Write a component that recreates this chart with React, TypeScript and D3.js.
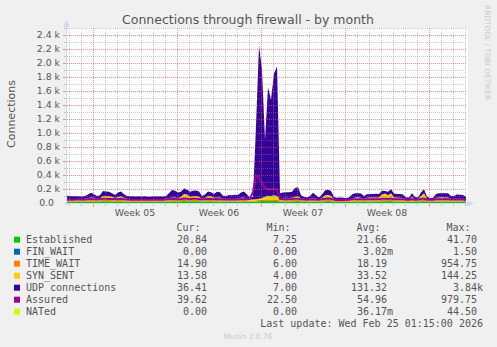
import React from "react";
import * as d3 from "d3";

const W = 497;
const H = 347;
const START = new Date(2026, 0, 23, 20, 0, 0);
const SPAN_HOURS = 800;
const STEP_HOURS = 6;

const established = [
  20, 21, 19, 20, 21, 20, 19, 21, 22, 21, 20, 21,
  25, 24, 24, 23, 22, 24, 25, 22,
  20, 19, 18, 19, 20, 19, 18, 19, 19, 20, 19, 18, 19, 20,
  23, 25, 24, 23, 24, 27, 26, 24, 25, 25, 24, 20, 22, 25, 24, 22, 23, 23,
  20, 20, 21, 20, 21, 20, 22, 23, 21, 18, 18,
  22, 26, 28, 28, 30, 29, 30, 29,
  23, 23, 23, 23, 24, 26, 27, 21, 20, 19, 20, 22, 20, 19, 21, 26, 27, 25,
  17, 16, 17, 16, 17, 17,
  21, 22, 22, 22, 20, 22, 22, 22, 22, 22, 25, 26, 24, 27, 22, 22, 22, 21,
  18, 19, 23, 19, 18, 24, 27, 19, 18, 18,
  22, 22, 23, 22, 22, 20, 20, 21, 21, 21, 21,
];
const timeWait = [
  16, 15, 16, 17, 16, 15, 16, 17, 18, 17, 16, 16,
  20, 21, 19, 20, 18, 19, 20, 18,
  15, 15, 14, 15, 16, 15, 15, 14, 15, 15, 14, 15, 15, 16,
  18, 20, 20, 19, 20, 22, 21, 20, 20, 21, 20, 16, 17, 20, 20, 18, 19, 18,
  16, 17, 17, 16, 17, 17, 18, 19, 17, 15, 15,
  16, 18, 20, 22, 22, 22, 23, 22,
  18, 18, 19, 18, 19, 21, 21, 17, 16, 15, 16, 18, 16, 15, 17, 21, 22, 21,
  14, 14, 14, 13, 14, 14,
  17, 18, 18, 18, 16, 18, 18, 17, 18, 18, 20, 21, 20, 22, 18, 18, 17, 17,
  15, 15, 19, 15, 15, 19, 22, 16, 14, 14,
  17, 18, 18, 18, 17, 16, 16, 17, 16, 16, 15,
];
const synSent = [
  24, 22, 20, 21, 23, 20, 25, 32, 40, 37, 24, 28,
  55, 55, 52, 47, 30, 42, 50, 35,
  25, 24, 23, 21, 22, 21, 24, 22, 22, 23, 22, 24, 21, 24,
  29, 35, 36, 28, 46, 79, 73, 46, 50, 54, 46, 24, 31, 55, 51, 35, 38, 37,
  24, 21, 24, 24, 24, 23, 35, 38, 27, 17, 17,
  17, 16, 22, 40, 53, 49, 57, 49,
  29, 29, 33, 31, 32, 43, 47, 27, 24, 21, 24, 35, 24, 21, 32, 63, 66, 59,
  24, 20, 21, 21, 19, 21,
  27, 40, 42, 35, 24, 35, 40, 39, 40, 38, 75, 88, 66, 89, 40, 38, 36, 32,
  22, 21, 48, 21, 19, 57, 91, 25, 18, 18,
  36, 40, 41, 40, 39, 24, 22, 27, 25, 23, 13,
];
const udp = [
  45, 42, 40, 40, 35, 37, 40, 50, 67, 50, 40, 45,
  72, 65, 65, 50, 45, 65, 70, 50,
  40, 40, 40, 37, 37, 37, 38, 35, 37, 37, 37, 38, 37, 40,
  70, 105, 95, 80, 70, 82, 70, 70, 80, 80, 75, 40, 50, 65, 60, 55, 80, 77,
  45, 42, 53, 52, 56, 55, 75, 85, 55, 25, 40,
  1045, 2190, 1830, 810, 1545, 1380, 1740, 1850,
  70, 80, 80, 83, 85, 125, 130, 45, 30, 25, 40, 70, 50, 25, 50, 70, 75, 65,
  30, 25, 26, 25, 22, 26,
  55, 60, 58, 60, 40, 50, 50, 50, 52, 52, 55, 35, 50, 57, 55, 52, 53, 50,
  23, 25, 50, 30, 28, 50, 55, 30, 20, 22,
  55, 60, 58, 58, 62, 40, 42, 55, 56, 55, 37,
];
const assured = [
  48, 50, 47, 49, 52, 48, 50, 55, 58, 54, 50, 52,
  62, 60, 58, 57, 52, 56, 60, 54,
  50, 48, 47, 46, 48, 47, 48, 46, 47, 48, 47, 48, 46, 50,
  55, 60, 58, 55, 57, 65, 62, 57, 60, 60, 58, 50, 53, 60, 58, 54, 56, 55,
  50, 49, 51, 50, 51, 50, 55, 57, 52, 60, 160,
  390, 360, 280, 210, 200, 195, 205, 195,
  60, 55, 56, 55, 56, 60, 62, 52, 50, 48, 50, 55, 50, 48, 53, 62, 63, 60,
  45, 44, 45, 44, 44, 45,
  52, 55, 55, 54, 50, 53, 54, 53, 54, 53, 60, 62, 58, 64, 54, 53, 53, 52,
  46, 47, 56, 47, 46, 57, 64, 48, 45, 45,
  53, 54, 55, 54, 54, 50, 49, 52, 51, 50, 40,
];

const seriesNames = ["Established", "FIN_WAIT", "TIME_WAIT", "SYN_SENT", "UDP connections", "Assured", "NATed"];
const seriesColors = ["#00CC00", "#0066B3", "#FF8000", "#FFCC00", "#330099", "#990099", "#CCFF00"];
const curValues = ["20.84", "0.00", "14.90", "13.58", "36.41", "39.62", "0.00"];
const minValues = ["7.25", "0.00", "6.00", "4.00", "7.00", "22.50", "0.00"];
const avgValues = ["21.66", "3.02m", "18.19", "33.52", "131.32", "54.96", "36.17m"];
const maxValues = ["41.70", "1.50", "954.75", "144.25", "3.84k", "979.75", "44.50"];
const columnHeaders = ["Cur:", "Min:", "Avg:", "Max:"];
const yTickValues = [0, 200, 400, 600, 800, 1000, 1200, 1400, 1600, 1800, 2000, 2200, 2400];
const yMinorValues = [100, 300, 500, 700, 900, 1100, 1300, 1500, 1700, 1900, 2100, 2300, 2500];

const TEXT = "#555555";
const MINOR = "rgba(143,143,143,0.45)";
const MAJOR = "rgba(222,79,79,0.6)";
const AXIS = "#CFD6F8";

export default function App() {
  const END = d3.timeHour.offset(START, SPAN_HOURS);
  const x = d3.scaleTime().domain([START, END]).range([67, 467]);
  const y = d3.scaleLinear().domain([0, 2500]).range([203, 28]);

  const rows = established.map((v, i) => ({
    date: d3.timeHour.offset(START, i * STEP_HOURS),
    established: v,
    timeWait: timeWait[i],
    synSent: synSent[i],
    udp: udp[i],
    assured: assured[i],
  }));
  const keys = ["established", "timeWait", "synSent", "udp"];
  const keyColors = ["#00CC00", "#FF8000", "#FFCC00", "#330099"];
  const stacked = d3.stack<any>().keys(keys)(rows);
  const area = d3
    .area<any>()
    .x((d) => x(d.data.date))
    .y0((d) => y(d[0]))
    .y1((d) => y(d[1]));
  const line = d3
    .line<any>()
    .x((d) => x(d.date))
    .y((d) => y(d.assured));

  const weeks = d3.timeMonday.range(START, END);
  const days = d3.timeDay.range(START, END).filter((d) => d.getDay() !== 1);
  const px = (d: Date) => Math.round(x(d)) + 0.5;
  const py = (v: number) => Math.round(y(v)) + 0.5;
  const fmtY = (v: number) => (v === 0 ? "0.0" : (v / 1000).toFixed(1) + " k");
  const weekFmt = d3.timeFormat("%V");

  const colEnds = [207, 297, 387, 477];
  const headerEnds = [200.5, 290.5, 380.5, 470.5];
  const cols = [curValues, minValues, avgValues, maxValues];
  const mono = "'DejaVu Sans Mono', monospace";
  const sans = "'DejaVu Sans', sans-serif";
  const charW = 6;

  return (
    <>
      <style>{`body{margin:0;background:#F0F0F0}`}</style>
      <svg width={W} height={H} style={{ display: "block", background: "#F0F0F0" }}>
        <rect x={0} y={0} width={W} height={H} fill="#F0F0F0" />
        <rect x={67} y={28} width={401} height={175} fill="#FFFFFF" />

        {stacked.map((s, k) => (
          <path key={keys[k]} d={area(s as any) || ""} fill={keyColors[k]} />
        ))}
        <path d={line(rows) || ""} fill="none" stroke="#990099" strokeWidth={2} />

        {/* grid */}
        {yMinorValues.map((v) => (
          <g key={"ym" + v}>
            <line x1={67} x2={467} y1={py(v)} y2={py(v)} stroke={MINOR} strokeDasharray="1,1" />
            <line x1={64} x2={66} y1={py(v)} y2={py(v)} stroke={MINOR} />
          </g>
        ))}
        {yTickValues.filter((v) => v > 0).map((v) => (
          <g key={"yM" + v}>
            <line x1={67} x2={467} y1={py(v)} y2={py(v)} stroke={MAJOR} strokeDasharray="1,1" />
            <line x1={63} x2={66} y1={py(v)} y2={py(v)} stroke={MAJOR} />
          </g>
        ))}
        {days.map((d) => (
          <g key={"d" + d.getTime()}>
            <line x1={px(d)} x2={px(d)} y1={28} y2={203} stroke={MINOR} strokeDasharray="1,1" />
            <line x1={px(d)} x2={px(d)} y1={204} y2={206} stroke={MINOR} />
          </g>
        ))}
        {weeks.map((d) => (
          <g key={"w" + d.getTime()}>
            <line x1={px(d)} x2={px(d)} y1={28} y2={203} stroke={MAJOR} strokeDasharray="1,1" />
            <line x1={px(d)} x2={px(d)} y1={204} y2={207} stroke={MAJOR} />
          </g>
        ))}

        {/* axes */}
        <line x1={66.5} x2={66.5} y1={206} y2={25} stroke={AXIS} />
        <polygon points="66.5,20 63.5,27 69.5,27" fill={AXIS} />
        <line x1={64} x2={470} y1={203.5} y2={203.5} stroke={AXIS} />
        <polygon points="474,203.5 467,200.5 467,206.5" fill={AXIS} />

        {/* y labels */}
        {yTickValues.map((v) => (
          <text
            key={"yl" + v}
            x={v === 0 ? 54 : 60}
            y={y(v) + 3.4}
            textAnchor="end"
            fontFamily={sans}
            fontSize={9.33}
            fill={TEXT}
          >
            {fmtY(v)}
          </text>
        ))}
        {/* week labels */}
        {weeks.map((d) => {
          const mid = d3.timeHour.offset(d, 84);
          if (x(mid) > 467) return null;
          return (
            <text
              key={"wl" + d.getTime()}
              x={x(mid)}
              y={216}
              textAnchor="middle"
              fontFamily={sans}
              fontSize={9.33}
              fill={TEXT}
            >
              {"Week " + weekFmt(d)}
            </text>
          );
        })}

        {/* title */}
        <text x={248} y={24} textAnchor="middle" fontFamily={sans} fontSize={12.5} fill={TEXT}>
          Connections through firewall - by month
        </text>
        <text
          transform="translate(14.5,114) rotate(-90)"
          textAnchor="middle"
          fontFamily={sans}
          fontSize={11}
          fill={TEXT}
        >
          Connections
        </text>
        <text
          transform="translate(485,5) rotate(90)"
          fontFamily={sans}
          fontSize={7.4}
          fill="#C8C8C8"
        >
          RRDTOOL / TOBI OETIKER
        </text>

        {/* legend */}
        {columnHeaders.map((h, j) => (
          <text key={h} x={headerEnds[j]} y={231.3} textAnchor="end" fontFamily={mono} fontSize={10} fill={TEXT}>
            {h}
          </text>
        ))}
        {seriesNames.map((name, i) => {
          const base = 243.2 + i * 12;
          return (
            <g key={name}>
              <rect x={14} y={base - 6.5} width={6} height={6} fill={seriesColors[i]} />
              <text x={26} y={base} fontFamily={mono} fontSize={10} fill={TEXT}>
                {name}
              </text>
              {cols.map((col, j) => {
                const s = col[i];
                const suffixed = /[a-zA-Z]$/.test(s);
                return (
                  <text
                    key={j}
                    x={colEnds[j] + (suffixed ? charW : 0)}
                    y={base}
                    textAnchor="end"
                    fontFamily={mono}
                    fontSize={10}
                    fill={TEXT}
                  >
                    {s}
                  </text>
                );
              })}
            </g>
          );
        })}
        <text x={483} y={327.2} textAnchor="end" fontFamily={mono} fontSize={10} fill={TEXT}>
          Last update: Wed Feb 25 01:15:00 2026
        </text>
        <text x={248} y={339} textAnchor="middle" fontFamily={sans} fontSize={7.4} fill="#C8C8C8">
          Munin 2.0.76
        </text>
      </svg>
    </>
  );
}
